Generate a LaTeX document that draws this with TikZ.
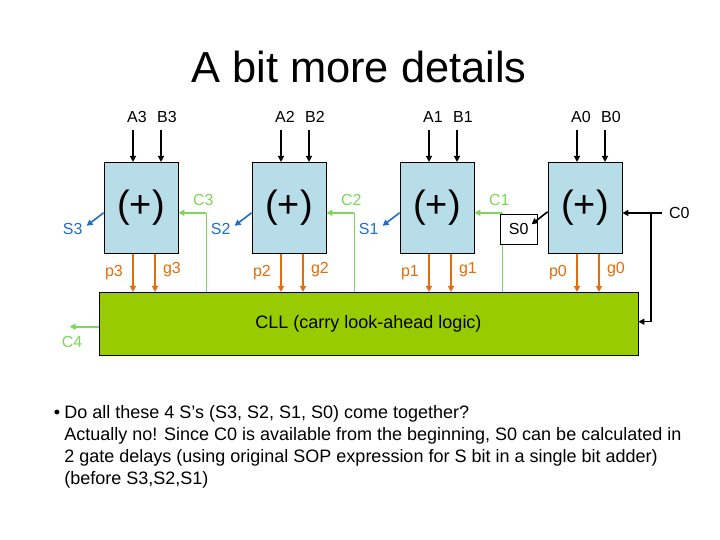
\documentclass[tikz,border=0pt]{standalone}
\usepackage{fontspec}
\setmainfont{Liberation Sans}
\usetikzlibrary{arrows.meta,calc}
\definecolor{boxblue}{RGB}{183,221,232}
\definecolor{cllgreen}{RGB}{153,204,0}
\definecolor{carrygreen}{RGB}{125,215,90}
\definecolor{pgorange}{RGB}{228,108,10}
\definecolor{sblue}{RGB}{31,110,200}
\begin{document}
\begin{tikzpicture}[x=0.5pt,y=-0.5pt,every node/.style={font=\fontsize{8}{9.6}\selectfont},
  >={Triangle[length=3pt,width=3pt]},
  adder/.style={draw,fill=boxblue,minimum width=37pt,minimum height=45.5pt,inner sep=0pt,font=\fontsize{19}{22}\selectfont},
  inarr/.style={->,line width=0.7pt},
  pgarr/.style={->,line width=0.9pt,pgorange},
  carry/.style={carrygreen,line width=0.5pt},
  carryarr/.style={->,carrygreen,line width=1pt},
  sarr/.style={->,line width=0.8pt,sblue}]
\useasboundingbox (0,0) rectangle (720,540);
% title
\node[anchor=base,font=\fontsize{21.7}{26}\selectfont] (title) at (359,83) {A bit more details};
% carry look-ahead block
\node[draw,fill=cllgreen,minimum width=269.5pt,minimum height=31.4pt,inner sep=0pt,font=\fontsize{9}{11}\selectfont] (cll) at (368.5,323.7) {CLL (carry look-ahead logic)};
% one adder per bit
\foreach \i/\xl in {3/104,2/252,1/400,0/548} {
  \node[adder] (b\i) at (\xl+37,207.8) {(+)};
  \node[anchor=base] (a\i) at (\xl+33,122.7) {A\i};
  \node[anchor=base] (bb\i) at (\xl+63,122.7) {B\i};
  \draw[inarr] ($(a\i.south)+(-4,0)$) -- ($(b\i.north)+(-8,0)$);
  \draw[inarr] ($(bb\i.south)+(-6,0)$) -- ($(b\i.north)+(20,0)$);
  % p and g down to the CLL
  \path ($(b\i.south)+(-8,0)$) coordinate (pt\i) ($(b\i.south)+(14,0)$) coordinate (gt\i);
  \draw[pgarr] (pt\i) -- (pt\i |- cll.north);
  \draw[pgarr] (gt\i) -- (gt\i |- cll.north);
  \node[pgorange] (pl\i) at (\xl+10,273) {p\i};
  \node[pgorange] (gl\i) at (\xl+68,270) {g\i};
  \ifnum\i>0
    % carry in from the CLL, sum out
    \coordinate (cc\i) at ($(b\i.east)+(28,5)$);
    \draw[carry] (cc\i |- cll.north) -- (cc\i);
    \draw[carryarr] (cc\i) -- (cc\i -| b\i.east);
    \node[carrygreen] (cl\i) at ($(cc\i)+(-3,-12.5)$) {C\i};
    \draw[sarr] ($(b\i.west)+(0,5)$) -- ++(-17,13) coordinate (se\i);
    \node[sblue,anchor=east] (sl\i) at ($(se\i)+(3,3)$) {S\i};
  \fi
}
% bit 0: S0 and C0
\node[draw,fill=white,minimum width=18.5pt,minimum height=15pt] (s0) at (518.7,229.3) {S0};
\draw[->,line width=0.8pt] ($(b0.west)+(0,4)$) -- ($(s0.east)+(-6,-5)$);
\node[anchor=west] (c0l) at (662,213) {C0};
\draw[inarr] (c0l.west) -- (c0l.west -| b0.east);
\coordinate (c0tap) at ($(c0l.west)+(-11,0)$);
\draw[inarr] (c0tap) |- ($(cll.east)+(0,-2)$);
% carry out
\coordinate (c4end) at ($(cll.west)+(-29,3)$);
\draw[carryarr] ($(cll.west)+(0,3)$) -- (c4end);
\node[carrygreen] (c4l) at (72,342) {C4};
% remark
\node[anchor=base,font=\fontsize{9}{11}\selectfont] (bul) at (57,418.5) {\textbullet};
\node[anchor=north west,align=left,inner sep=0pt,font=\fontsize{9}{10.85}\selectfont] (note) at (64,405.5) {Do all these 4 S’s (S3, S2, S1, S0) come together?\\Actually no! Since C0 is available from the beginning, S0 can be calculated in\\2 gate delays (using original SOP expression for S bit in a single bit adder)\\(before S3,S2,S1)};
\end{tikzpicture}
\end{document}
